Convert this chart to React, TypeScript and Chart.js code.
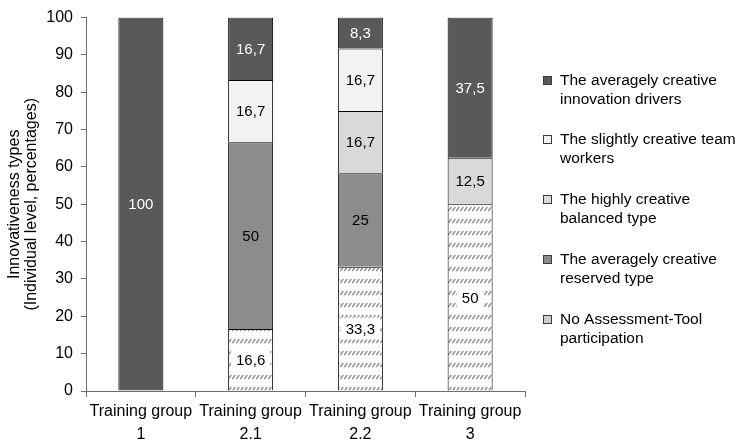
import React, { useEffect, useRef } from 'react';
import { Chart, registerables } from 'chart.js';

Chart.register(...registerables);

// Categories (two-line tick labels)
const groups: string[][] = [
  ['Training group', '1'],
  ['Training group', '2.1'],
  ['Training group', '2.2'],
  ['Training group', '3'],
];

// Series values in percent, stacked bottom to top
const noAssessment = [0, 16.6, 33.3, 50];
const reservedType = [0, 50, 25, 0];
const balancedType = [0, 0, 16.7, 12.5];
const teamWorkers = [0, 16.7, 16.7, 0];
const innovationDrivers = [100, 16.7, 8.3, 37.5];

// Legend text, split into lines
const noAssessmentLabel = ['No Assessment-Tool', 'participation'];
const reservedLabel = ['The averagely creative', 'reserved type'];
const balancedLabel = ['The highly creative', 'balanced type'];
const teamWorkersLabel = ['The slightly creative team', 'workers'];
const driversLabel = ['The averagely creative', 'innovation drivers'];

const yAxisTitle = ['Innovativeness types', '(Individual level, percentages)'];

const FONT = "'Liberation Sans', Arial, sans-serif";

// Small repeating tile: one row of short slashes, then blank space
function makeHatch(): CanvasPattern | string {
  const w = 4;
  const h = 12;
  const tile = document.createElement('canvas');
  tile.width = w;
  tile.height = h;
  const t = tile.getContext('2d');
  if (!t) return '#ffffff';
  t.fillStyle = '#ffffff';
  t.fillRect(0, 0, w, h);
  t.strokeStyle = '#8a8a8a';
  t.lineWidth = 1.3;
  t.beginPath();
  t.moveTo(0.3, 7);
  t.lineTo(3.3, 3);
  t.stroke();
  const p = t.createPattern(tile, 'repeat');
  return p || '#ffffff';
}

export default function App() {
  const canvasRef = useRef<HTMLCanvasElement | null>(null);

  useEffect(() => {
    const canvas = canvasRef.current;
    if (!canvas) return;
    const hatch = makeHatch();

    const series = [
      { label: noAssessmentLabel, data: noAssessment, fill: hatch, legendFill: '#cfcfcf', text: '#000000', boxed: true },
      { label: reservedLabel, data: reservedType, fill: '#8c8c8c', legendFill: '#8c8c8c', text: '#000000', boxed: false },
      { label: balancedLabel, data: balancedType, fill: '#d9d9d9', legendFill: '#d9d9d9', text: '#000000', boxed: false },
      { label: teamWorkersLabel, data: teamWorkers, fill: '#f2f2f2', legendFill: '#f2f2f2', text: '#000000', boxed: false },
      { label: driversLabel, data: innovationDrivers, fill: '#595959', legendFill: '#595959', text: '#ffffff', boxed: false },
    ];

    const valueLabels = {
      id: 'valueLabels',
      afterDatasetsDraw(chart: any) {
        const ctx = chart.ctx as CanvasRenderingContext2D;
        ctx.save();
        ctx.font = `15px ${FONT}`;
        ctx.textAlign = 'center';
        ctx.textBaseline = 'middle';
        series.forEach((s, di) => {
          const meta = chart.getDatasetMeta(di);
          meta.data.forEach((bar: any, i: number) => {
            const v = s.data[i];
            if (!v) return;
            const { x, y, base } = bar.getProps(['x', 'y', 'base'], true);
            const cy = (y + base) / 2;
            const text = String(v).replace('.', ',');
            if (s.boxed) {
              const w = ctx.measureText(text).width + 10;
              ctx.fillStyle = '#ffffff';
              ctx.fillRect(x - w / 2, cy - 11, w, 22);
            }
            ctx.fillStyle = s.text;
            ctx.fillText(text, x, cy + 1);
          });
        });
        ctx.restore();
      },
    };

    const sideLegend = {
      id: 'sideLegend',
      afterDraw(chart: any) {
        const ctx = chart.ctx as CanvasRenderingContext2D;
        const area = chart.chartArea;
        const boxX = Math.round(area.right + 18);
        const textX = area.right + 35;
        const top = area.top + 62;
        const itemGap = 59.8;
        const lineGap = 19;
        ctx.save();
        ctx.font = `15.5px ${FONT}`;
        ctx.textAlign = 'left';
        ctx.textBaseline = 'middle';
        const ordered = series.slice().reverse();
        ordered.forEach((s, k) => {
          const y0 = Math.round(top + k * itemGap);
          ctx.fillStyle = s.legendFill;
          ctx.fillRect(boxX, y0 - 4, 9, 9);
          ctx.strokeStyle = '#3a3a3a';
          ctx.lineWidth = 1;
          ctx.strokeRect(boxX + 0.5, y0 - 3.5, 8, 8);
          ctx.fillStyle = '#000000';
          s.label.forEach((line, li) => {
            ctx.fillText(line, textX, y0 + li * lineGap + 1);
          });
        });
        ctx.restore();
      },
    };

    const chart = new Chart(canvas, {
      type: 'bar',
      data: {
        labels: groups,
        datasets: series.map((s) => ({
          label: s.label.join(' '),
          data: s.data,
          backgroundColor: s.fill as any,
          borderColor: '#000000',
          borderWidth: 1,
          borderSkipped: 'bottom',
          barPercentage: 0.41,
          categoryPercentage: 1,
        })),
      },
      options: {
        responsive: false,
        animation: false,
        devicePixelRatio: 1,
        layout: { padding: { top: 16, right: 215, left: 0, bottom: 0 } },
        font: { family: FONT },
        plugins: {
          legend: { display: false },
          tooltip: { enabled: false },
        },
        scales: {
          x: {
            stacked: true,
            grid: { drawOnChartArea: false, offset: true, tickLength: 6, color: '#6e6e6e' },
            border: { color: '#6e6e6e', width: 1 },
            ticks: {
              color: '#000000',
              font: { family: FONT, size: 16, lineHeight: 1.45 },
              padding: 3,
              maxRotation: 0,
              autoSkip: false,
            },
            afterFit: (s: any) => {
              s.height = 54;
            },
          },
          y: {
            stacked: true,
            min: 0,
            max: 100,
            grid: { drawOnChartArea: false, tickLength: 5, color: '#6e6e6e' },
            border: { color: '#6e6e6e', width: 1 },
            ticks: {
              stepSize: 10,
              color: '#000000',
              font: { family: FONT, size: 16 },
              padding: 8,
            },
            title: {
              display: true,
              text: yAxisTitle,
              color: '#000000',
              font: { family: FONT, size: 16, lineHeight: 1.08 },
              padding: { top: 6, bottom: 0 },
            },
            afterFit: (s: any) => {
              s.width = 86;
            },
          },
        },
      } as any,
      plugins: [valueLabels, sideLegend],
    });

    return () => chart.destroy();
  }, []);

  return (
    <div style={{ position: 'absolute', left: 0, top: 0, width: 740, height: 445, background: '#ffffff' }}>
      <canvas ref={canvasRef} width={740} height={445} />
    </div>
  );
}
